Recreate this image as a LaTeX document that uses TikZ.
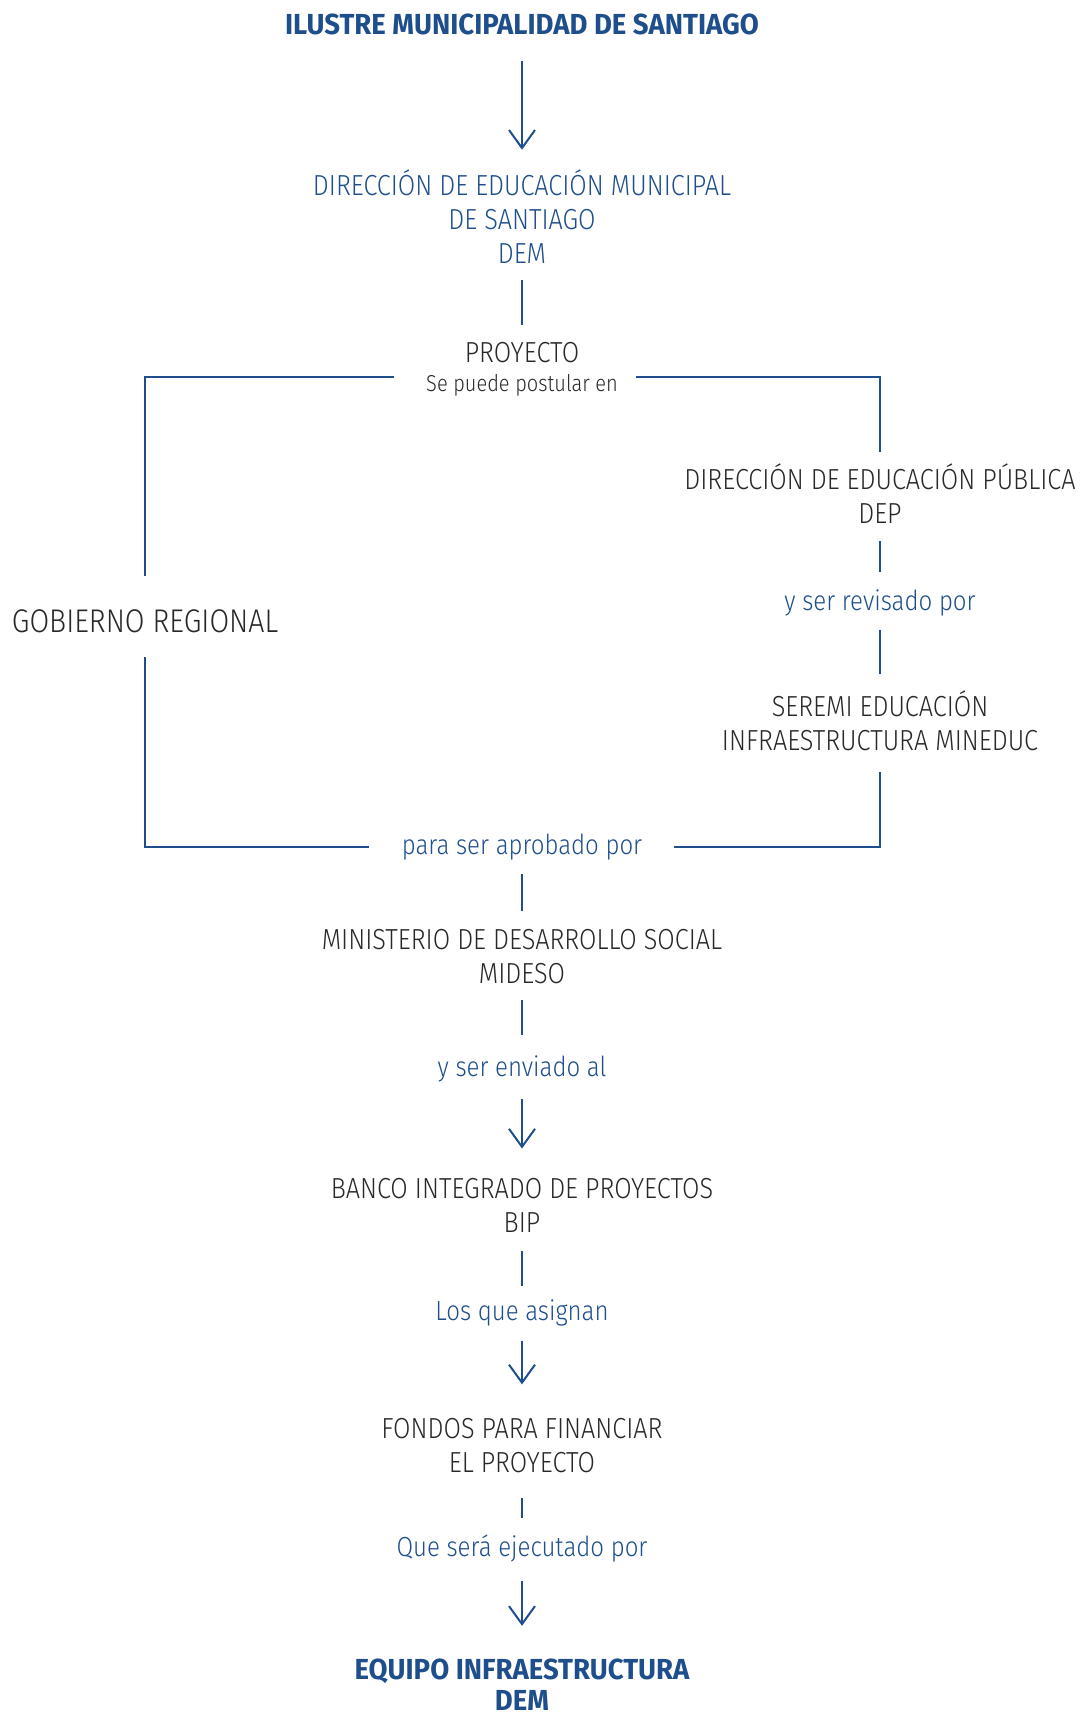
\documentclass[tikz,border=0pt]{standalone}
\usepackage{fontspec}
\setmainfont{Fira Sans}[UprightFont=* Light, BoldFont=* Bold, FakeStretch=0.87, BoldFeatures={FakeStretch=0.95}]
\usepackage{tikz}
\usetikzlibrary{arrows.meta, positioning, calc}
\definecolor{demblue}{RGB}{30, 78, 140}
\definecolor{textgray}{RGB}{40, 40, 40}

\tikzset{
  box/.style={inner sep=0pt, align=center, text=textgray, font=\fontsize{14.5}{17}\selectfont},
  bluebox/.style={box, text=demblue, font=\fontsize{13.8}{16}\selectfont},
  title/.style={box, text=demblue, font=\fontsize{14.5}{15.5}\selectfont\bfseries},
  link/.style={draw=demblue, line width=1pt},
  arr/.style={link, -{Straight Barb[length=9pt, width=13pt, line width=1pt]}}
}

\begin{document}
\begin{tikzpicture}[x=0.5pt, y=-0.5pt]
  \useasboundingbox (0,0) rectangle (1080,1715);

  % nodes
  \node[title] (ilustre) at (522,24) {ILUSTRE MUNICIPALIDAD DE SANTIAGO};
  \node[box, text=demblue] (dem) at (522,217) {DIRECCIÓN DE EDUCACIÓN MUNICIPAL\\DE SANTIAGO\\DEM};
  \node[box] (proy) at (522,353) {PROYECTO};
  \node[box, font=\fontsize{11.5}{13}\selectfont] (sub) at (522,385) {Se puede postular en};
  \node[box] (dep) at (880,494) {DIRECCIÓN DE EDUCACIÓN PÚBLICA\\DEP};
  \node[bluebox] (rev) at (880,603) {y ser revisado por};
  \node[box] (seremi) at (880,721) {SEREMI EDUCACIÓN\\INFRAESTRUCTURA MINEDUC};
  \node[box, font=\fontsize{16.4}{19}\selectfont] (gore) at (145,621) {GOBIERNO REGIONAL};
  \node[bluebox] (apro) at (522,847) {para ser aprobado por};
  \node[box] (mideso) at (522,957) {MINISTERIO DE DESARROLLO SOCIAL\\MIDESO};
  \node[bluebox] (env) at (522,1069) {y ser enviado al};
  \node[box] (bip) at (522,1205) {BANCO INTEGRADO DE PROYECTOS\\BIP};
  \node[bluebox] (asig) at (522,1313) {Los que asignan};
  \node[box] (fondos) at (522,1446) {FONDOS PARA FINANCIAR\\EL PROYECTO};
  \node[bluebox] (ejec) at (522,1549) {Que será ejecutado por};
  \node[title] (equipo) at (522,1685) {EQUIPO INFRAESTRUCTURA\\DEM};

  % connectors
  \draw[arr, shorten <=13pt, shorten >=10pt] (ilustre) -- (dem);
  \draw[link, shorten <=8pt, shorten >=8.5pt] (dem) -- (proy);
  \draw[link] ([xshift=-16pt, yshift=4pt]sub.west) -| ([yshift=16.5pt]gore.north);
  \draw[link] ([xshift=9pt, yshift=4pt]sub.east) -| ([yshift=6pt]dep.north);
  \draw[link, shorten <=8.5pt, shorten >=8.5pt] (dep) -- (rev);
  \draw[link, shorten <=6.5pt, shorten >=8.5pt] (rev) -- (seremi);
  \draw[link] ([yshift=-10.5pt]seremi.south) |- ([xshift=15.5pt]apro.east);
  \draw[link] ([yshift=-12pt]gore.south) |- ([xshift=-16pt]apro.west);
  \draw[link, shorten <=7pt, shorten >=9pt] (apro) -- (mideso);
  \draw[link, shorten <=7.5pt, shorten >=10pt] (mideso) -- (env);
  \draw[arr, shorten <=8pt, shorten >=14.5pt] (env) -- (bip);
  \draw[link, shorten <=9pt, shorten >=6.5pt] (bip) -- (asig);
  \draw[arr, shorten <=7pt, shorten >=17pt] (asig) -- (fondos);
  \draw[link, shorten <=12pt, shorten >=8.5pt] (fondos) -- (ejec);
  \draw[arr, shorten <=9pt, shorten >=16.5pt] (ejec) -- (equipo);
\end{tikzpicture}
\end{document}
